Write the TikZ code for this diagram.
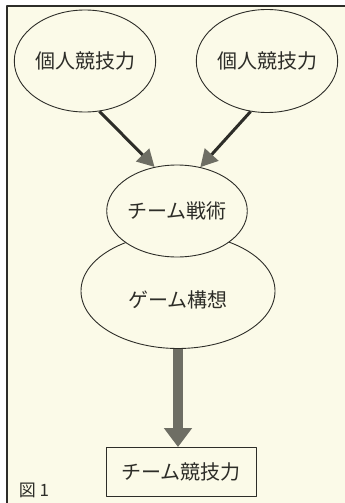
\documentclass[tikz,border=0pt]{standalone}
\usepackage{fontspec}
\setmainfont{Noto Sans CJK JP}
\usetikzlibrary{arrows.meta,positioning,shapes.geometric}
\definecolor{paper}{RGB}{251,250,232}
\definecolor{ink}{RGB}{45,45,40}
\definecolor{arrowgray}{RGB}{110,110,100}

\begin{document}
\begin{tikzpicture}[x=1pt,y=-1pt,line join=round,
  oval/.style={ellipse,draw=ink,fill=paper,inner sep=0pt,line width=0.9pt,text=ink,font=\fontsize{20}{24}\selectfont},
  thin arrow/.style={line width=3pt,draw=ink,-{Triangle[length=17pt,width=18pt,color=arrowgray,fill=arrowgray]}},
  thick arrow/.style={line width=10pt,draw=arrowgray,-{Triangle[length=19pt,width=27pt]}}]
\useasboundingbox (0,0) rectangle (345,503);
\fill[paper] (7,6) rectangle (345,503);
\draw[ink,line width=1.2pt] (7,503)--(7,6)--(345,6);
\node[oval,minimum width=134pt,minimum height=102pt] (kojinL) at (85,61)  {個人競技力};
\node[oval,minimum width=131pt,minimum height=103pt] (kojinR) at (267,61) {個人競技力};
\node[oval,minimum width=194pt,minimum height=115pt,text height=32pt,text depth=0pt] (koso) at (178,291) {ゲーム構想};
\node[oval,minimum width=133pt,minimum height=92pt] (senjutsu) at (177,211) {チーム戦術};
\node[draw=ink,line width=0.9pt,fill=paper,text=ink,minimum width=150pt,minimum height=49pt,font=\fontsize{20}{24}\selectfont] (team) at (181,472) {チーム競技力};
\node[text=ink,font=\fontsize{17}{20}\selectfont] (zu) at (34,490) {図 1};
\draw[thin arrow] (kojinL.-74) -- (senjutsu.117);
\draw[thin arrow] (kojinR.-108) -- (senjutsu.62);
\draw[thick arrow] (koso.south) -- (koso.south |- team.north);
\end{tikzpicture}
\end{document}
